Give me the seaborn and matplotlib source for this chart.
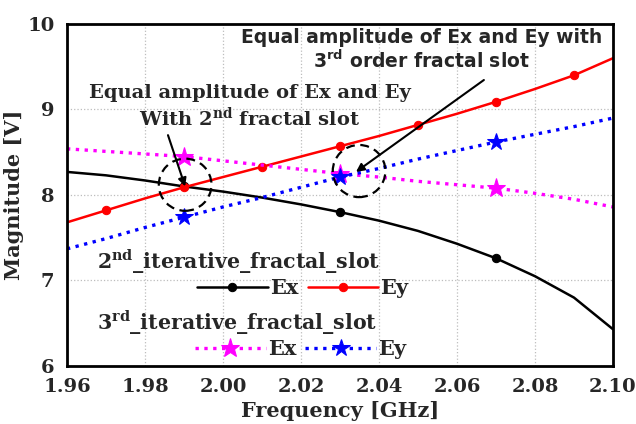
import matplotlib
matplotlib.use("Agg")
import matplotlib.pyplot as plt
from matplotlib.patches import Ellipse
import numpy as np
import pandas as pd
import seaborn as sns

# Frequency sweep [GHz] and field magnitudes [V]
freq = [1.96, 1.97, 1.98, 1.99, 2.00, 2.01, 2.02, 2.03,
        2.04, 2.05, 2.06, 2.07, 2.08, 2.09, 2.10]
ex_2nd = [8.27, 8.23, 8.17, 8.10, 8.04, 7.97, 7.89, 7.80,
          7.70, 7.58, 7.43, 7.26, 7.05, 6.80, 6.43]
ey_2nd = [7.68, 7.82, 7.96, 8.09, 8.21, 8.33, 8.45, 8.57,
          8.69, 8.82, 8.95, 9.09, 9.24, 9.40, 9.60]
ex_3rd = [8.54, 8.51, 8.48, 8.45, 8.40, 8.35, 8.30, 8.25,
          8.21, 8.16, 8.12, 8.08, 8.02, 7.95, 7.86]
ey_3rd = [7.37, 7.49, 7.62, 7.74, 7.86, 7.97, 8.09, 8.21,
          8.31, 8.42, 8.52, 8.62, 8.71, 8.80, 8.90]

x_ticks = [1.96, 1.98, 2.00, 2.02, 2.04, 2.06, 2.08, 2.10]
x_tick_labels = ["1.96", "1.98", "2.00", "2.02", "2.04", "2.06", "2.08", "2.10"]
y_ticks = [6, 7, 8, 9, 10]

# equal-amplitude crossings highlighted on the plot
cross_2nd = (1.9903, 8.12)
cross_3rd = (2.0349, 8.28)

df = pd.DataFrame({"freq": freq, "ex2": ex_2nd, "ey2": ey_2nd,
                   "ex3": ex_3rd, "ey3": ey_3rd})

sns.set_style("white")
plt.rcParams["font.family"] = ["DejaVu Serif"]
plt.rcParams["font.weight"] = "bold"
plt.rcParams["mathtext.fontset"] = "custom"
plt.rcParams["mathtext.rm"] = "DejaVu Serif:bold"
plt.rcParams["mathtext.bf"] = "DejaVu Serif:bold"
plt.rcParams["mathtext.sf"] = "DejaVu Sans:bold"

fig = plt.figure(figsize=(6.36, 4.24), dpi=100)
ax = fig.add_axes([0.1053, 0.1368, 0.8585, 0.8066])

l_ex2 = sns.lineplot(data=df, x="freq", y="ex2", ax=ax, color="black", lw=1.8,
                     marker="o", markersize=6, markevery=[3, 7, 11],
                     markeredgecolor="black", label="Ex").get_lines()[-1]
l_ey2 = sns.lineplot(data=df, x="freq", y="ey2", ax=ax, color="red", lw=1.8,
                     marker="o", markersize=6, markevery=[1, 3, 5, 7, 9, 11, 13],
                     markeredgecolor="red", label="Ey").get_lines()[-1]
l_ex3 = sns.lineplot(data=df, x="freq", y="ex3", ax=ax, color="magenta", lw=2.4,
                     linestyle=":", marker="*", markersize=14, markevery=[3, 7, 11],
                     markeredgecolor="magenta", label="Ex").get_lines()[-1]
l_ey3 = sns.lineplot(data=df, x="freq", y="ey3", ax=ax, color="blue", lw=2.4,
                     linestyle=":", marker="*", markersize=13, markevery=[3, 7, 11],
                     markeredgecolor="blue", label="Ey").get_lines()[-1]

ax.set_xlim(1.96, 2.10)
ax.set_ylim(6, 10)
ax.set_xticks(x_ticks)
ax.set_xticklabels(x_tick_labels)
ax.set_yticks(y_ticks)
ax.grid(True, color="#bdbdbd", linestyle=":", linewidth=0.9)
ax.tick_params(direction="in", length=7, width=1.8, labelsize=14, pad=9)
for lab in ax.get_xticklabels() + ax.get_yticklabels():
    lab.set_fontweight("bold")
for sp in ax.spines.values():
    sp.set_linewidth(2.0)
    sp.set_color("black")

ax.set_xlabel("Frequency [GHz]", fontsize=15, fontweight="bold", labelpad=3)
ax.set_ylabel("Magnitude [V]", fontsize=15, fontweight="bold")
ax.yaxis.set_label_coords(-0.078, 0.5)

# legends: one row per fractal-slot iteration
leg_kw = dict(ncol=2, frameon=False, loc="center left", handlelength=3.4,
              handletextpad=0.1, columnspacing=0.45, borderpad=0, borderaxespad=0,
              prop={"family": "DejaVu Serif", "weight": "bold", "size": 15})
leg1 = ax.legend(handles=[l_ex2, l_ey2], labels=["Ex", "Ey"],
                 bbox_to_anchor=(0.238, 0.228), **leg_kw)
ax.add_artist(leg1)
leg2 = ax.legend(handles=[l_ex3, l_ey3], labels=["Ex", "Ey"],
                 bbox_to_anchor=(0.234, 0.05), **leg_kw)

ax.text(0.055, 0.304, r"2$^{\mathrm{nd}}$_iterative_fractal_slot",
        transform=ax.transAxes, ha="left", va="center", fontsize=14.8,
        fontweight="bold")
ax.text(0.055, 0.126, r"3$^{\mathrm{rd}}$_iterative_fractal_slot",
        transform=ax.transAxes, ha="left", va="center", fontsize=14.8,
        fontweight="bold")

# dashed circles around the crossings
for c in (cross_2nd, cross_3rd):
    ax.add_patch(Ellipse(c, width=0.0135, height=0.61, fill=False,
                         edgecolor="black", linestyle=(0, (4, 2.5)), lw=1.6,
                         zorder=5))

ax.annotate("", xy=(1.9903, 8.10), xytext=(1.9859, 8.70),
            arrowprops=dict(arrowstyle="-|>", color="black", lw=1.5,
                            mutation_scale=12, shrinkA=0, shrinkB=0))
ax.annotate("", xy=(2.0341, 8.27), xytext=(2.0669, 9.345),
            arrowprops=dict(arrowstyle="-|>", color="black", lw=1.5,
                            mutation_scale=12, shrinkA=0, shrinkB=0))

ax.text(0.335, 0.757, "Equal amplitude of Ex and Ey\n" + r"With 2$^{\mathrm{nd}}$ fractal slot",
        transform=ax.transAxes, ha="center", va="center", fontsize=14,
        fontweight="bold", linespacing=1.2)
ax.text(0.649, 0.925, "Equal amplitude of Ex and Ey with\n" + r"3$^{\mathsf{rd}}$ order fractal slot",
        transform=ax.transAxes, ha="center", va="center", fontsize=13.5,
        fontweight="bold", family="DejaVu Sans", linespacing=1.15)

fig.savefig("out.png", dpi=100)
